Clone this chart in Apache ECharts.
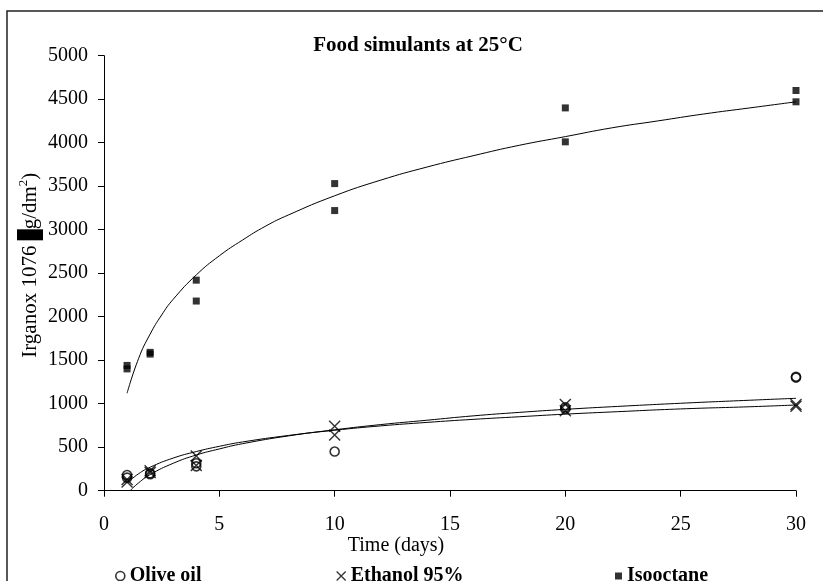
<!DOCTYPE html>
<html>
<head>
<meta charset="utf-8">
<script src="https://cdn.jsdelivr.net/npm/echarts@6/dist/echarts.min.js"></script>
<style>html,body{margin:0;padding:0;background:#fff;}#c{width:823px;height:581px;}</style>
</head>
<body>
<div id="c"></div>
<script>
// ---- data ----
var xTicks = [0, 5, 10, 15, 20, 25, 30];
var yTicks = [0, 500, 1000, 1500, 2000, 2500, 3000, 3500, 4000, 4500, 5000];

var oliveOil = [[1,180],[1,150],[2,190],[2,200],[4,315],[4,280],[10,450],[20,960],[20,940],[30,1310],[30,1300]];
var ethanol95 = [[1,130],[1,100],[2,230],[2,210],[4,400],[4,290],[10,740],[10,640],[20,990],[20,920],[30,990],[30,970]];
var isooctane = [[1,1440],[1,1400],[2,1570],[2,1590],[4,2420],[4,2180],[10,3530],[10,3220],[20,4400],[20,4010],[30,4600],[30,4470]];

var isooctaneFit = [[1,1120],[1.5,1520],[2,1800],[2.5,2020],[3,2200],[4,2480],[5,2700],[6,2880],[7,3040],[8,3170],[10,3390],[12,3570],[14,3720],[16,3850],[18,3970],[20,4070],[22,4170],[24,4250],[26,4330],[28,4400],[30,4470]];
var oliveFit = [[1.13,0],[1.5,90],[2,185],[3,315],[4,410],[5,480],[6,540],[8,630],[10,700],[12,760],[14,810],[16,860],[18,900],[20,935],[22,965],[25,1005],[28,1040],[30,1062]];
var ethanolFit = [[1,88],[1.5,195],[2,270],[3,375],[4,450],[5,510],[6,560],[8,635],[10,695],[12,745],[14,785],[16,820],[18,850],[20,880],[22,905],[25,940],[28,965],[30,985]];

var names = ['Olive oil', 'Ethanol 95%', 'Isooctane'];
var titleText = 'Food simulants at 25°C';
var xName = 'Time (days)';

var FONT = "'Liberation Serif','Times New Roman',serif";
var CROSS = 'path://M0,0L10,10M10,0L0,10';

var chart = echarts.init(document.getElementById('c'));
function fitLine(name, data) {
  return { name: name, type: 'line', data: data, smooth: true, showSymbol: false, symbol: 'none',
    lineStyle: { color: '#000', width: 1 }, silent: true, z: 1 };
}
var legendBase = { top: 561, orient: 'horizontal', itemGap: 6,
  textStyle: { fontFamily: FONT, fontWeight: 'bold', fontSize: 20, color: '#000' } };

chart.setOption({
  animation: false,
  backgroundColor: '#fff',
  title: { text: titleText, left: 413, top: 30, textAlign: 'center',
    textStyle: { fontFamily: FONT, fontWeight: 'bold', fontSize: 21, color: '#000' } },
  grid: { left: 104, right: 27, top: 55.7, bottom: 90.3, containLabel: false },
  legend: [
    Object.assign({}, legendBase, { left: 110, data: [{ name: names[0], icon: 'circle',
      itemStyle: { color: '#fff', borderColor: '#000', borderWidth: 1.6 } }], itemWidth: 9, itemHeight: 9 }),
    Object.assign({}, legendBase, { left: 331, data: [{ name: names[1], icon: CROSS,
      itemStyle: { color: '#000', borderColor: '#000', borderWidth: 1.3 } }], itemWidth: 9, itemHeight: 9 }),
    Object.assign({}, legendBase, { left: 610, data: [{ name: names[2], icon: 'rect',
      itemStyle: { color: '#000' } }], itemWidth: 7, itemHeight: 7 })
  ],
  xAxis: {
    type: 'value', min: xTicks[0], max: xTicks[xTicks.length - 1], interval: 5,
    name: xName, nameLocation: 'middle', nameGap: 45, nameMoveOverlap: false,
    nameTextStyle: { fontFamily: FONT, fontSize: 20, color: '#000', padding: [0, 108, 0, 0] },
    axisLine: { lineStyle: { color: '#000', width: 1 } },
    axisTick: { inside: false, length: 6, lineStyle: { color: '#000' } },
    axisLabel: { fontFamily: FONT, fontSize: 20, color: '#000', margin: 24,
      formatter: function (v) { return String(v); } },
    splitLine: { show: false }
  },
  yAxis: {
    type: 'value', min: yTicks[0], max: yTicks[yTicks.length - 1], interval: 500,
    name: '{a|Irganox 1076 }{box|}{a|g/dm}{sup|2}{a|)}',
    nameLocation: 'middle', nameGap: 61, nameRotate: 90, nameMoveOverlap: false,
    nameTextStyle: { fontFamily: FONT, fontSize: 21, color: '#000', padding: [0, 0, 0, 16],
      rich: {
        a: { fontFamily: FONT, fontSize: 21, color: '#000' },
        box: { backgroundColor: '#000', width: 11, height: 24, padding: [2, 0, 0, 0] },
        sup: { fontFamily: FONT, fontSize: 13, color: '#000', verticalAlign: 'top', padding: [0, 0, 10, 0] }
      } },
    axisLine: { show: true, lineStyle: { color: '#000', width: 1 } },
    axisTick: { show: true, inside: false, length: 6, lineStyle: { color: '#000' } },
    axisLabel: { fontFamily: FONT, fontSize: 20, color: '#000', margin: 16,
      formatter: function (v) { return String(v); } },
    splitLine: { show: false }
  },
  series: [
    fitLine('fitIso', isooctaneFit),
    fitLine('fitOlive', oliveFit),
    fitLine('fitEthanol', ethanolFit),
    { name: names[0], type: 'scatter', data: oliveOil, symbol: 'circle', symbolSize: 9,
      itemStyle: { color: 'rgba(255,255,255,0)', borderColor: '#000', borderWidth: 1.6 }, z: 3 },
    { name: names[1], type: 'scatter', data: ethanol95, symbol: CROSS, symbolSize: 11,
      itemStyle: { color: '#000', borderColor: '#000', borderWidth: 1.4 }, z: 3 },
    { name: names[2], type: 'scatter', data: isooctane, symbol: 'rect', symbolSize: 7,
      itemStyle: { color: '#000' }, z: 3 }
  ],
  graphic: [
    { type: 'rect', shape: { x: 7, y: 11, width: 840, height: 600 }, silent: true,
      style: { fill: 'none', stroke: '#222', lineWidth: 1.5 }, z: -1 }
  ]
});
</script>
</body>
</html>
